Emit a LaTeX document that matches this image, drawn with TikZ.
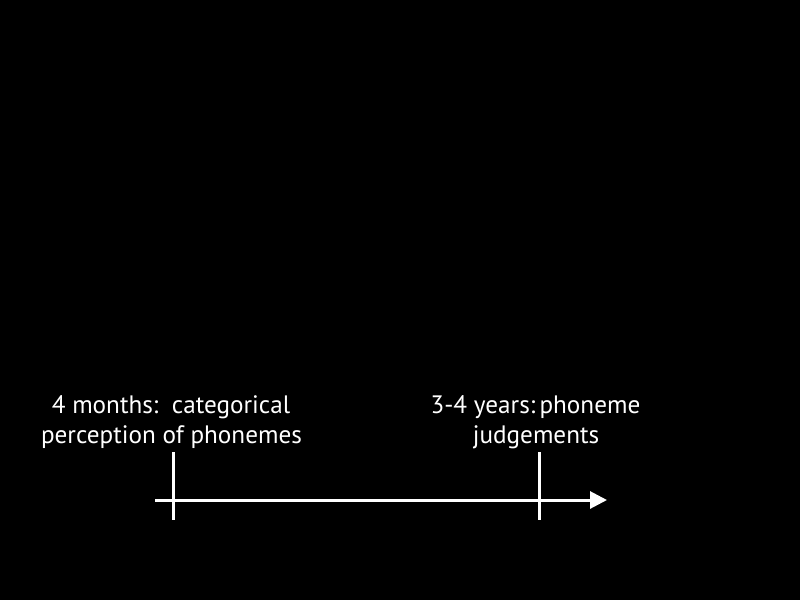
\documentclass[tikz,border=0pt]{standalone}
\usepackage{fontspec}
\setmainfont{PT Sans}
\usetikzlibrary{arrows.meta}
\begin{document}
\begin{tikzpicture}[x=1pt,y=-1pt,
  lbl/.style={text=white,anchor=base,inner sep=0pt,font=\fontsize{25.2}{30}\selectfont},
  axis/.style={white,line width=3pt,-{Triangle[length=17pt,width=17pt]}},
  tick/.style={white,line width=3pt}]
\fill[black] (0,0) rectangle (800,600);
\useasboundingbox (0,0) rectangle (800,600);
\coordinate (start) at (155,500);
\coordinate (end) at (607,500);
\coordinate (t1a) at (173,452);
\coordinate (t1b) at (173,520);
\coordinate (t2a) at (539,452);
\coordinate (t2b) at (539,520);
\draw[axis] (start) -- (end);
\draw[tick] (t1a) -- (t1b);
\draw[tick] (t2a) -- (t2b);
\node[lbl] (l1a) at (171,413) {4 months:\ \ categorical};
\node[lbl] (l1b) at (171.5,443) {perception of phonemes};
\node[lbl] (l2a) at (535.5,413) {3-4 years:\,phoneme};
\node[lbl] (l2b) at (536,443) {judgements};
\end{tikzpicture}
\end{document}
